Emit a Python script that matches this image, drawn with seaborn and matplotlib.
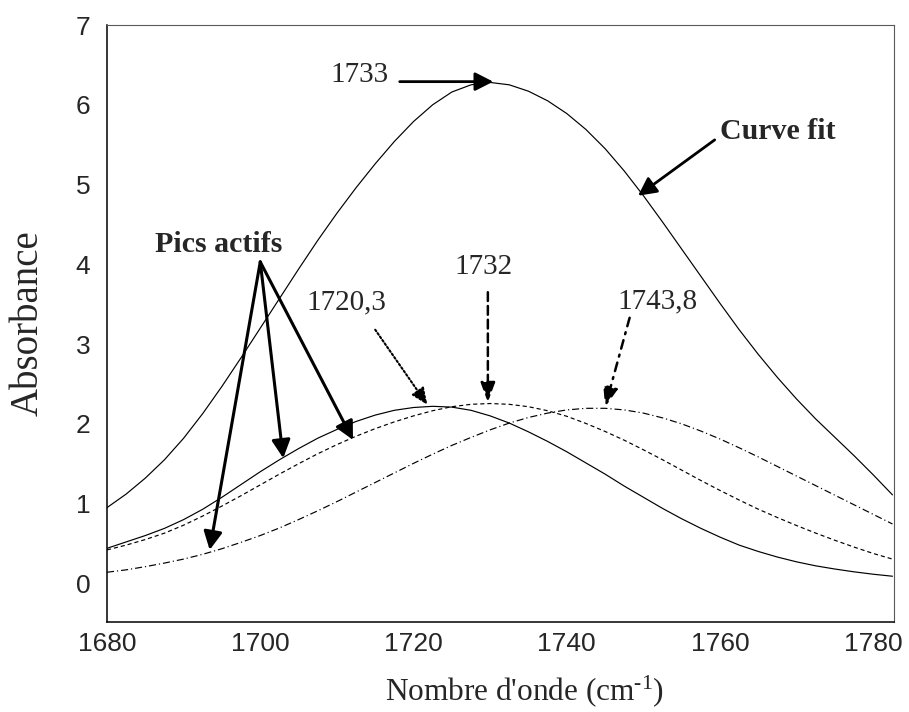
import matplotlib
matplotlib.use("Agg")
import matplotlib.pyplot as plt
from matplotlib.ticker import FixedLocator, MultipleLocator
import numpy as np
import pandas as pd
import seaborn as sns

# Wavenumber grid (cm-1) and absorbance of the fitted band and its three components
wavenumber = [1680.0, 1682.5, 1685.0, 1687.5, 1690.0, 1692.5, 1695.0, 1697.5, 1700.0, 1702.5,
              1705.0, 1707.5, 1710.0, 1712.5, 1715.0, 1717.5, 1720.0, 1722.5, 1725.0, 1727.5,
              1730.0, 1732.5, 1735.0, 1737.5, 1740.0, 1742.5, 1745.0, 1747.5, 1750.0, 1752.5,
              1755.0, 1757.5, 1760.0, 1762.5, 1765.0, 1767.5, 1770.0, 1772.5, 1775.0, 1777.5,
              1780.0, 1782.5]
curve_fit = [0.95, 1.12, 1.32, 1.55, 1.82, 2.13, 2.47, 2.83, 3.20, 3.57,
             3.94, 4.30, 4.64, 4.96, 5.26, 5.54, 5.79, 6.00, 6.16, 6.25,
             6.28, 6.25, 6.17, 6.05, 5.89, 5.69, 5.45, 5.17, 4.86, 4.53,
             4.19, 3.85, 3.51, 3.18, 2.87, 2.58, 2.31, 2.06, 1.83, 1.60,
             1.36, 1.11]
peak_1720 = [0.44, 0.52, 0.60, 0.69, 0.80, 0.93, 1.08, 1.24, 1.40, 1.55,
             1.69, 1.82, 1.93, 2.03, 2.11, 2.17, 2.205, 2.22, 2.21, 2.17,
             2.10, 2.01, 1.90, 1.78, 1.65, 1.51, 1.37, 1.22, 1.08, 0.94,
             0.81, 0.69, 0.58, 0.48, 0.40, 0.33, 0.27, 0.22, 0.18, 0.145,
             0.115, 0.09]
peak_1732 = [0.42, 0.48, 0.55, 0.63, 0.73, 0.845, 0.97, 1.10, 1.235, 1.37,
             1.50, 1.625, 1.74, 1.845, 1.94, 2.025, 2.10, 2.165, 2.215, 2.245,
             2.255, 2.245, 2.215, 2.165, 2.095, 2.005, 1.905, 1.795, 1.675, 1.55,
             1.42, 1.29, 1.165, 1.045, 0.93, 0.825, 0.725, 0.63, 0.54, 0.455,
             0.375, 0.305]
peak_1744 = [0.14, 0.17, 0.21, 0.255, 0.305, 0.365, 0.435, 0.515, 0.60, 0.695,
             0.80, 0.91, 1.025, 1.145, 1.265, 1.385, 1.505, 1.62, 1.73, 1.83,
             1.925, 2.01, 2.08, 2.135, 2.175, 2.195, 2.195, 2.175, 2.135, 2.075,
             2.00, 1.91, 1.81, 1.70, 1.585, 1.465, 1.345, 1.225, 1.105, 0.985,
             0.865, 0.745]

x_ticks = [1680, 1700, 1720, 1740, 1760, 1780]
y_ticks = [0, 1, 2, 3, 4, 5, 6, 7]

series = {
    "Curve fit": curve_fit,
    "1720,3": peak_1720,
    "1732": peak_1732,
    "1743,8": peak_1744,
}
frames = [pd.DataFrame({"wavenumber": wavenumber, "absorbance": vals, "courbe": name})
          for name, vals in series.items()]
df = pd.concat(frames, ignore_index=True)

sns.set_style("white")
plt.rcParams["font.family"] = ["Liberation Sans", "DejaVu Sans"]
plt.rcParams["mathtext.fontset"] = "custom"
plt.rcParams["mathtext.rm"] = "Liberation Serif"
plt.rcParams["mathtext.it"] = "Liberation Serif:italic"
plt.rcParams["mathtext.bf"] = "Liberation Serif:bold"

SERIF = ["Liberation Serif", "DejaVu Serif"]

fig = plt.figure(figsize=(9.09, 7.12), dpi=100)
ax = fig.add_axes([107 / 909, 1 - 621.7 / 712, (894 - 107) / 909, (621.7 - 25) / 712])

sns.lineplot(
    data=df, x="wavenumber", y="absorbance", style="courbe",
    dashes={"Curve fit": "", "1720,3": "", "1732": (3.5, 2.5), "1743,8": (6, 2.5, 1, 2.5)},
    color="black", linewidth=0.85, legend=False, ax=ax, estimator=None, sort=False,
)

ax.set_xlim(1680, 1782.7)
ax.set_ylim(-0.48, 7)

# axis frame: dark left/bottom, lighter top/right
for side in ["left", "bottom"]:
    ax.spines[side].set_color("black")
    ax.spines[side].set_linewidth(1.1)
for side in ["top", "right"]:
    ax.spines[side].set_color("0.35")
    ax.spines[side].set_linewidth(0.8)

ax.set_xticks(x_ticks)
ax.tick_params(axis="x", which="major", length=0, pad=7.5, labelsize=19)
ax.xaxis.set_minor_locator(FixedLocator(np.linspace(1680, 1782.7, 15)[1:-1]))
ax.tick_params(axis="x", which="minor", direction="in", length=4, width=0.8, color="0.45")

ax.set_yticks(y_ticks)
ax.yaxis.set_minor_locator(MultipleLocator(0.5))
ax.tick_params(axis="y", which="both", direction="in", length=4, width=0.8,
               color="0.45", pad=12, labelsize=19)

ax.set_xlabel("Nombre d'onde (cm$^{\\text{-1}}$)", family=SERIF, fontsize=22.5)
ax.xaxis.set_label_coords(0.530, -0.116)
ax.xaxis.label.set_verticalalignment("center")
ax.set_ylabel("Absorbance", family=SERIF, fontsize=28)
ax.yaxis.set_label_coords(-0.100, 0.5)
ax.yaxis.label.set_verticalalignment("center")

# Annotations
def arrow(tip, start, lw=2.0, ls="-", head=(0.55, 0.28)):
    ax.annotate("", xy=tip, xytext=start,
                arrowprops=dict(arrowstyle=f"-|>,head_length={head[0]},head_width={head[1]}",
                                mutation_scale=20, lw=lw, linestyle=ls, color="black",
                                shrinkA=0, shrinkB=0))

ax.text(1712.9, 6.37, "1733", family=SERIF, fontsize=21, ha="center", va="center")
arrow((1730.4, 6.29), (1718.2, 6.29), lw=2.0)

ax.text(1767.6, 5.66, "Curve fit", family=SERIF, fontsize=21.5, fontweight="bold",
        ha="center", va="center")
arrow((1749.3, 4.86), (1759.3, 5.56), lw=2.0)

ax.text(1694.6, 4.25, "Pics actifs", family=SERIF, fontsize=21.5, fontweight="bold",
        ha="center", va="center")
for tip in [(1693.4, 0.42), (1703.0, 1.57), (1712.1, 1.80)]:
    arrow(tip, (1700.0, 4.03), lw=2.2)

ax.text(1711.2, 3.52, "1720,3", family=SERIF, fontsize=21, ha="center", va="center")
arrow((1721.8, 2.24), (1715.0, 3.18), lw=1.5, ls=(0, (0.9, 1.1)), head=(0.5, 0.22))

ax.text(1729.1, 3.97, "1732", family=SERIF, fontsize=21, ha="center", va="center")
arrow((1729.7, 2.27), (1729.7, 3.65), lw=1.8, ls=(0, (3.5, 2)), head=(0.6, 0.22))

ax.text(1751.9, 3.53, "1743,8", family=SERIF, fontsize=21, ha="center", va="center")
arrow((1745.0, 2.21), (1748.2, 3.33), lw=1.8, ls=(0, (3.5, 2.5, 0.8, 2.5)), head=(0.6, 0.22))

fig.savefig("out.png", dpi=100)
